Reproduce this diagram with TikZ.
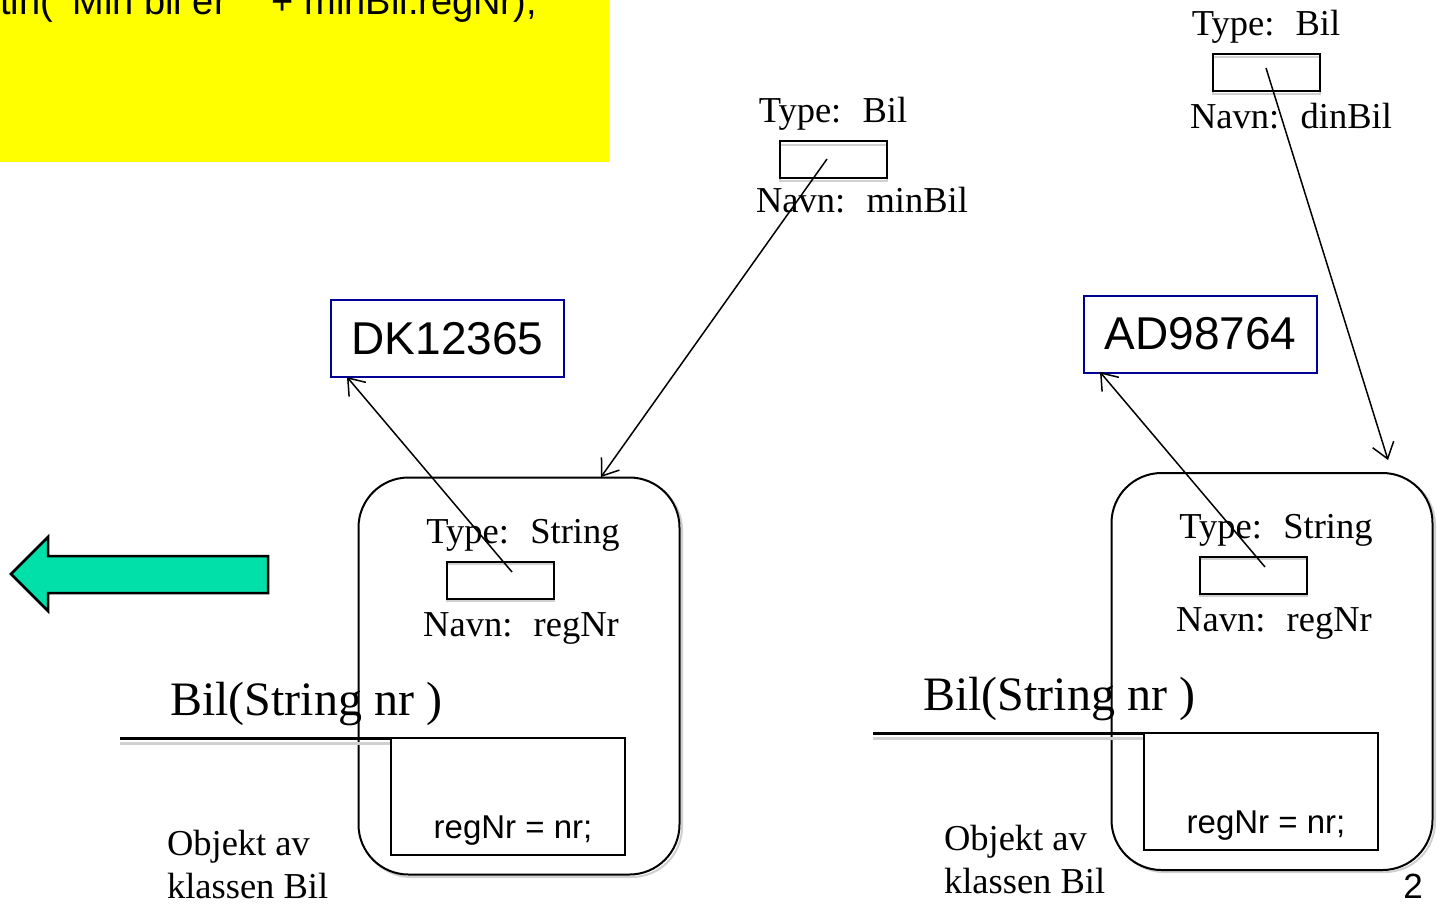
\documentclass[tikz,border=0pt]{standalone}
\usepackage{fontspec}
\setmainfont{Liberation Serif}
\newfontfamily\uisans{Liberation Sans}
\usetikzlibrary{arrows.meta}
\definecolor{codebg}{RGB}{255,255,0}
\definecolor{navy}{RGB}{0,0,150}
\definecolor{mint}{RGB}{0,224,168}
\definecolor{shadowgray}{RGB}{208,208,208}

\tikzset{
  every node/.style={inner sep=0pt, outer sep=0pt},
  serif36/.style={font=\fontsize{36.5}{44}\selectfont},
  serif48/.style={font=\fontsize{48}{56}\selectfont},
  slot/.style={draw, line width=2pt, minimum width=107pt, minimum height=37pt},
  valuebox/.style={draw=navy, line width=2pt, minimum width=233pt, minimum height=77pt,
                   font=\uisans\fontsize{46}{52}\selectfont},
  objbox/.style={draw, line width=2pt, rounded corners=50pt, minimum width=321pt, minimum height=397pt},
  bodybox/.style={draw, line width=2pt, minimum width=234pt, minimum height=117pt},
  ref/.style={line width=1.5pt, -{Straight Barb[length=15pt,width=22pt]}},
  ghost/.style={draw=shadowgray, line width=2pt},
}

\begin{document}
\begin{tikzpicture}[x=1pt,y=-1pt]
\useasboundingbox (0,0) rectangle (1437,903);

% code panel, its first line running off the top edge
\begin{scope}
  \clip (0,0) rectangle (609,162);
  \fill[codebg] (0,0) rectangle (609,162);
  \node[anchor=base west, font=\uisans\fontsize{38}{44}\selectfont] (code) at (0,14)
    {tln(\,"Min bil er~ " + minBil.regNr);};
\end{scope}

% arrow pointing back to the code
\draw[fill=mint, line width=2.5pt, line join=miter]
  (11,574) -- (48,537) -- (48,556) -- (268,556) -- (268,593) -- (48,593) -- (48,611) -- cycle;

% ---------- reference variable minBil ----------
\node[serif36, anchor=base] (t1) at (833,122) {Type:~ Bil};
\draw[ghost] (779.5,145) rectangle (886.5,181);
\node[slot] (s1) at (833,159) {};
\node[serif36, anchor=base] (n1) at (862,212) {Navn:~ minBil};

% ---------- reference variable dinBil ----------
\node[serif36, anchor=base] (t2) at (1266,35) {Type:~ Bil};
\draw[ghost] (1212.5,57) rectangle (1319.5,94);
\node[slot] (s2) at (1266,72) {};
\node[serif36, anchor=base] (n2) at (1291,128) {Navn:~ dinBil};

% ---------- string objects ----------
\node[valuebox] (v1) at (447.5,338.5) {DK12365};
\node[valuebox] (v2) at (1200.5,334) {AD98764};

% ---------- first Bil object ----------
\draw[ghost, rounded corners=50pt] (361,480) rectangle (682,877);
\node[objbox, fill=white] (o1) at (519,676) {};
\node[serif36, anchor=base] (t3) at (523,543) {Type:~ String};
\draw[ghost] (446.5,564) rectangle (553.5,601);
\node[slot] (s3) at (500,580) {};
\node[serif36, anchor=base] (n3) at (521,636) {Navn:~ regNr};

\node[serif48, anchor=base west] (c1) at (170,715) {Bil(String nr )};
\draw[draw=shadowgray, line width=3pt] (120,743) -- (391,743);
\draw[line width=3.5pt] (120,738.5) -- (391,738.5);
\node[bodybox] (b1) at (508,796.5) {};
\node[font=\uisans\fontsize{33}{40}\selectfont, anchor=base] (r1) at (513,838) {regNr = nr;};
\node[serif36, anchor=base west] (k1) at (167,855) {Objekt av};
\node[serif36, anchor=base west] (k1b) at (167,898) {klassen Bil};

% ---------- second Bil object ----------
\draw[ghost, rounded corners=50pt] (1114,475) rectangle (1435,872);
\node[objbox, fill=white] (o2) at (1272,671.5) {};
\node[serif36, anchor=base] (t4) at (1276,538) {Type:~ String};
\draw[ghost] (1199.5,559) rectangle (1306.5,596);
\node[slot] (s4) at (1253,575) {};
\node[serif36, anchor=base] (n4) at (1274,631) {Navn:~ regNr};

\node[serif48, anchor=base west] (c2) at (923,710) {Bil(String nr )};
\draw[draw=shadowgray, line width=3pt] (873,738) -- (1144,738);
\draw[line width=3.5pt] (873,733.5) -- (1144,733.5);
\node[bodybox] (b2) at (1261,791.5) {};
\node[font=\uisans\fontsize{33}{40}\selectfont, anchor=base] (r2) at (1266,833) {regNr = nr;};
\node[serif36, anchor=base west] (k2) at (944,850) {Objekt av};
\node[serif36, anchor=base west] (k2b) at (944,893) {klassen Bil};

% ---------- references ----------
\coordinate (e1) at (601,477);
\coordinate (e2) at (1388,460);
\coordinate (e3) at (347,377);
\coordinate (e4) at (1100,372);
\coordinate (p1) at (827,159);
\coordinate (p2) at (1266,68);
\coordinate (p3) at (512,572);
\coordinate (p4) at (1265,567);
\draw[ref] (p1) -- (e1);
\draw[ref] (p2) -- (e2);
\draw[ref] (p3) -- (e3);
\draw[ref] (p4) -- (e4);

% slide number
\node[font=\uisans\fontsize{35}{40}\selectfont, anchor=base] (pg) at (1413,898) {2};
\end{tikzpicture}
\end{document}
